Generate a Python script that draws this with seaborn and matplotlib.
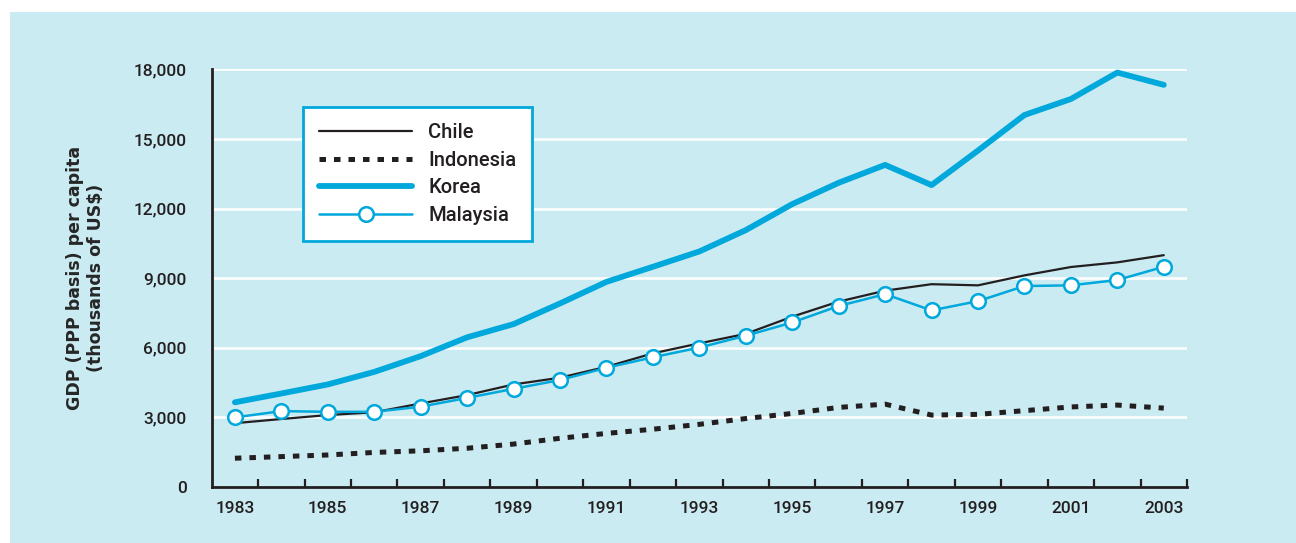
import pandas as pd
import numpy as np
from matplotlib import pyplot as plt
from matplotlib.patches import Rectangle
from matplotlib.ticker import FixedLocator, FuncFormatter
import seaborn as sns

years = list(range(1983, 2004))
chile = [2750, 2930, 3100, 3220, 3600, 3960, 4420, 4710, 5180, 5760, 6190,
         6600, 7340, 7990, 8460, 8740, 8690, 9120, 9480, 9680, 9990]
indonesia = [1240, 1310, 1380, 1490, 1560, 1670, 1850, 2100, 2310, 2490, 2700,
             2950, 3170, 3430, 3570, 3100, 3130, 3290, 3450, 3530, 3400]
korea = [3650, 4030, 4420, 4960, 5640, 6450, 7020, 7910, 8840, 9490, 10150,
         11070, 12190, 13110, 13880, 13010, 14500, 16030, 16720, 17860, 17330]
malaysia = [3000, 3270, 3240, 3240, 3460, 3840, 4230, 4610, 5140, 5590, 6010,
            6520, 7090, 7800, 8310, 7610, 8010, 8660, 8690, 8920, 9490]

df = pd.DataFrame({'Year': years, 'Chile': chile, 'Indonesia': indonesia,
                   'Korea': korea, 'Malaysia': malaysia})

bg = '#cbebf2'
blue = '#00a8dc'
dark = '#231f20'

sns.set_style('white')
plt.rcParams['font.family'] = ['Roboto', 'DejaVu Sans']
plt.rcParams['font.weight'] = 'medium'

fig = plt.figure(figsize=(12.96, 5.43), dpi=100, facecolor='white')
fig.patches.append(Rectangle((10 / 1296, 0), 1, 1 - 12 / 543, transform=fig.transFigure,
                             facecolor=bg, edgecolor='none', zorder=-1))
ax = fig.add_axes([211.7 / 1296, 1 - 487 / 543, (1187 - 211.7) / 1296, (487 - 69.3) / 543])
ax.set_facecolor(bg)

sns.lineplot(data=df, x='Year', y='Chile', ax=ax, color=dark, lw=1.6, label='Chile', zorder=3)
sns.lineplot(data=df, x='Year', y='Indonesia', ax=ax, color=dark, lw=3.6, label='Indonesia',
             dashes=(1.3, 1.6), zorder=3)
ax.lines[-1].set_dash_capstyle('butt')
sns.lineplot(data=df, x='Year', y='Korea', ax=ax, color=blue, lw=4.2, label='Korea', zorder=3)
sns.lineplot(data=df, x='Year', y='Malaysia', ax=ax, color=blue, lw=1.8, label='Malaysia',
             marker='o', markersize=10.5, markerfacecolor='white', markeredgecolor=blue,
             markeredgewidth=1.8, zorder=4)

ax.set_xlim(1982.5, 2003.5)
ax.set_ylim(0, 18000)
ax.set_xlabel('')
ax.set_ylabel('GDP (PPP basis) per capita\n(thousands of US$)', fontsize=12.5,
              fontweight='bold', family='DejaVu Sans', linespacing=1.25)
ax.yaxis.set_label_coords(-0.109, 0.5)

ax.set_xticks(range(1983, 2004, 2))
ax.xaxis.set_minor_locator(FixedLocator(np.arange(1983.5, 2004, 1)))
ax.tick_params(axis='x', which='major', length=0, pad=10, labelsize=12.5, labelcolor=dark)
ax.tick_params(axis='x', which='minor', direction='in', length=6, width=1.6, color=dark, bottom=True)

ax.set_yticks(range(0, 18001, 3000))
ax.yaxis.set_major_formatter(FuncFormatter(lambda v, p: f'{int(v):,}'))
ax.tick_params(axis='y', length=0, pad=18, labelsize=12.5, labelcolor=dark)

for y in range(3000, 18001, 3000):
    ax.axhline(y, color='white', lw=1.8, zorder=1)

for s in ['top', 'right']:
    ax.spines[s].set_visible(False)
for s in ['left', 'bottom']:
    ax.spines[s].set_color(dark)
    ax.spines[s].set_linewidth(2)

leg = ax.legend(loc='upper left', bbox_to_anchor=(0.094, 0.909), borderaxespad=0,
                fontsize=14.5, handlelength=4.6, handletextpad=0.8, labelspacing=0.42,
                borderpad=0.8, fancybox=False, framealpha=1, facecolor='white',
                edgecolor=blue)
leg.get_frame().set_linewidth(2)
for t in leg.get_texts():
    t.set_color(dark)
leg.legend_handles[1].set_dash_capstyle('butt')

fig.savefig('out.png', dpi=100, facecolor=fig.get_facecolor())
